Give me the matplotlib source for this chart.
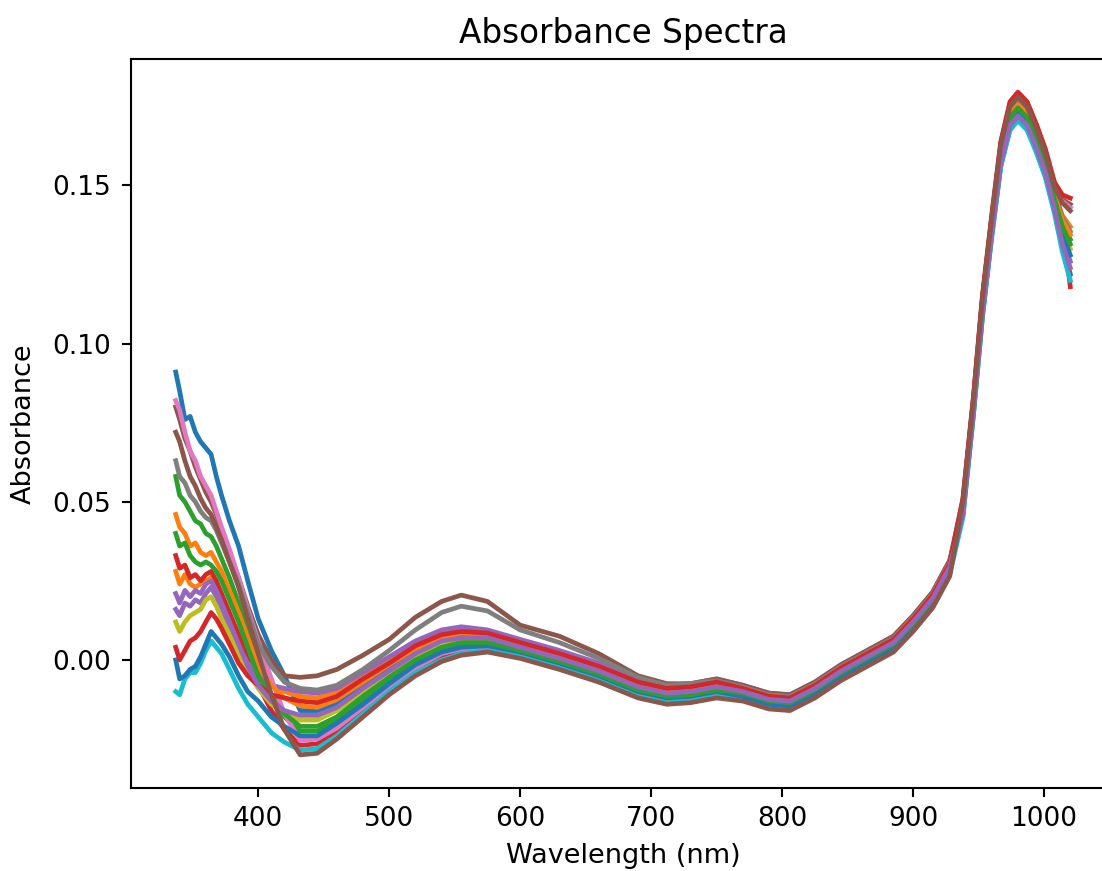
import matplotlib
matplotlib.use("Agg")
import matplotlib.pyplot as plt
import numpy as np

wavelength = [337, 340, 344, 348, 352, 356, 360, 364, 368, 372, 378, 385, 392, 400, 410, 420,
              432, 445, 460, 480, 500, 520, 540, 555, 575, 600, 630, 660, 690, 712, 730, 750,
              770, 790, 806, 825, 845, 865, 885, 900, 915, 928,
              938, 946, 953, 960, 967, 974, 980, 987, 994, 1001, 1008, 1014, 1020]

# absorbance in milli-units, one list per spectrum (plot order = colour cycle order)
spec_00 = [91, 85, 76, 77, 72, 69, 67, 65, 58, 52, 44, 36, 25, 13, 3, -5,
           -16, -16, -14, -8, -2.5, 2.5, 6.5, 8, 7.5, 4.5, 1, -3, -8, -10, -9.5, -8,
           -9.5, -12, -12.5, -8.5, -3, 1.5, 6, 12.5, 20, 30,
           45.5, 77.5, 109, 134, 156.5, 168, 171, 168, 161, 153, 142, 130.5, 122]
spec_01 = [28, 24, 27, 24, 23, 24, 25, 26, 23, 20, 14, 8, 1, -4, -8, -10,
           -11.5, -12, -10, -5, 0, 5, 9, 10, 9, 6, 2.5, -1.5, -6.5, -8.5, -8, -6.5,
           -8.5, -11, -11.5, -7.5, -2, 2.5, 7, 13.5, 21, 31,
           49, 81, 113, 138, 161, 173.5, 176.5, 173.5, 166.5, 158.5, 147.5, 140.5, 137]
spec_02 = [58, 52, 50, 47, 44, 43, 40, 39, 36, 32, 26, 18, 9, -1, -11, -18,
           -22.5, -22.5, -19, -13, -6.5, -1, 3, 5, 5, 3, -0.5, -4.5, -9.5, -11.5, -11, -9.5,
           -11, -13.5, -14, -10, -4.5, 0, 4.5, 11, 18.5, 28.5,
           48, 80, 112, 137, 160, 172, 175, 172, 165, 157, 146, 138, 133]
spec_03 = [33, 29, 30, 26, 27, 25, 27, 28, 25, 21, 15, 8, 0, -8, -16, -22,
           -27, -26.5, -22.5, -16, -9, -3.5, 1, 3, 3.5, 1.5, -2, -6, -11, -13, -12.5, -11,
           -12, -14.5, -15, -11, -5.5, -1, 3.5, 10, 17.5, 27.5,
           49.5, 81.5, 114, 139, 162, 174.5, 177.5, 174.5, 167.5, 159.5, 149, 139, 118]
spec_04 = [16, 14, 18, 17, 19, 18, 21, 23, 20, 16, 10, 4, -1, -5, -8, -9,
           -10, -10.5, -9, -4, 1, 6, 9.5, 10.5, 9.5, 6.5, 3, -1, -6, -8, -7.5, -6,
           -8, -10.5, -11, -7, -1.5, 3, 7.5, 14, 21.5, 31.5,
           46.5, 78.5, 110, 135, 158, 169.5, 172.5, 169.5, 162.5, 154.5, 143, 133, 126]
spec_05 = [80, 76, 70, 66, 61, 57, 53, 50, 46, 41, 34, 26, 17, 8, 0, -5,
           -5.5, -5, -3, 1.5, 6.5, 13.5, 18.5, 20.5, 18.5, 11, 7.5, 2, -5, -7.5, -7.5, -6,
           -8, -10.5, -11, -7, -1.5, 3, 7.5, 14, 21.5, 31.5,
           50.5, 82.5, 115, 140, 163.5, 176, 179, 176, 169, 161, 150, 145.5, 144]
spec_06 = [82, 79, 72, 66, 63, 58, 55, 52, 47, 42, 35, 26, 16, 6, -6, -17,
           -25.5, -25, -21.5, -15, -8.5, -2.5, 2, 3.5, 4, 2, -1.5, -5.5, -10.5, -12.5, -12, -10.5,
           -12, -14.5, -15, -11, -5.5, -1, 3.5, 10, 17.5, 27.5,
           49, 81, 113.5, 138.5, 161.5, 174, 177, 174, 167, 159, 148.5, 145, 143]
spec_07 = [63, 58, 56, 52, 50, 47, 45, 44, 41, 37, 31, 24, 15, 5, -2, -7,
           -9, -9.5, -8, -3, 3, 9.5, 15, 17, 15.5, 9.5, 5.5, 0.5, -5.5, -8, -7.5, -6.5,
           -8.5, -11, -11.5, -7.5, -2, 2.5, 7, 13.5, 21, 31,
           48.5, 80.5, 112.5, 137.5, 161, 173, 176, 173, 166, 158, 147, 140, 135.5]
spec_08 = [12, 9, 12, 14, 15, 16, 19, 20, 17, 13, 8, 2, -4, -9, -14, -17,
           -19, -19, -16, -10.5, -4.5, 1, 5, 6.5, 6.5, 4, 0.5, -3.5, -8.5, -10.5, -10, -8.5,
           -10.5, -13, -13.5, -9.5, -4, 0.5, 5, 11.5, 19, 29,
           47, 79, 111, 136, 159, 171, 174, 171, 164, 156, 144.5, 136, 130]
spec_09 = [-10, -11, -6, -4, -4, -1, 3, 6, 4, 2, -3, -9, -14, -18, -23, -26,
           -28.5, -28, -24, -17, -10, -4, 0, 2, 3, 1, -2.5, -6.5, -11.5, -13.5, -13, -11.5,
           -12.5, -15, -15.5, -11.5, -6, -1.5, 3, 9.5, 17, 27,
           45, 77, 108.5, 133.5, 156, 167.5, 170.5, 167.5, 160.5, 152.5, 141, 129, 120]
spec_10 = [0, -6, -5, -3, -2, 1, 5, 9, 7, 5, 1, -5, -10, -13, -18, -21,
           -24, -24, -20, -14, -7.5, -1.5, 2.5, 4, 4.5, 2.5, -1, -5, -10, -12, -11.5, -10,
           -11.5, -14, -14.5, -10.5, -5, -0.5, 4, 10.5, 18, 28,
           47, 79, 110.5, 135.5, 158.5, 170, 173, 170, 163, 155, 144, 134.5, 128]
spec_11 = [46, 42, 40, 36, 37, 34, 33, 34, 31, 28, 22, 15, 7, -2, -8, -12,
           -14.5, -15, -12.5, -7, -1.5, 3.5, 7, 8.5, 8, 5, 1.5, -2.5, -7.5, -9.5, -9, -7.5,
           -9, -11.5, -12, -8, -2.5, 2, 6.5, 13, 20.5, 30.5,
           48.5, 80.5, 112.5, 137.5, 160.5, 172.5, 175.5, 172.5, 165.5, 157.5, 146.5, 139, 134.5]
spec_12 = [40, 36, 37, 33, 31, 30, 31, 30, 28, 25, 19, 12, 4, -5, -12, -17,
           -21, -21, -18, -11.5, -5.5, 0, 4, 5.5, 5.5, 3, -0.5, -4.5, -9.5, -11.5, -11, -9.5,
           -10.5, -13, -13.5, -9.5, -4, 0.5, 5, 11.5, 19, 29,
           47.5, 79.5, 111.5, 136.5, 159.5, 171.5, 174.5, 171.5, 164.5, 156.5, 145.5, 137, 131.5]
spec_13 = [4, 0, 3, 6, 7, 9, 12, 15, 13, 10, 5, -1, -5, -8, -11, -12,
           -13, -13.5, -11.5, -6, -1, 4.5, 8, 9, 8.5, 5.5, 2, -2, -7, -9, -8.5, -7,
           -9, -11.5, -12, -8, -2.5, 2, 6.5, 13, 20.5, 30.5,
           51, 83, 115.5, 140.5, 164, 176.5, 179.5, 176.5, 169.5, 161.5, 151, 147, 146]
spec_14 = [21, 18, 22, 20, 22, 21, 24, 25, 22, 18, 12, 5, -2, -8, -13, -16,
           -17.5, -17.5, -15, -9, -3.5, 2, 6, 7, 7, 4, 0.5, -3.5, -8.5, -10.5, -10, -8.5,
           -10, -12.5, -13, -9, -3.5, 1, 5.5, 12, 19.5, 29.5,
           46, 78, 109.5, 134.5, 157, 169, 172, 169, 162, 154, 142.5, 131.5, 124]
spec_15 = [72, 69, 63, 58, 55, 51, 48, 46, 42, 38, 31, 23, 13, 2, -11, -22,
           -30, -29.5, -25, -18, -11, -5, -0.5, 1.5, 2.5, 0.5, -3, -7, -12, -14, -13.5, -12,
           -13, -15.5, -16, -12, -6.5, -2, 2.5, 9, 16.5, 26.5,
           50, 82, 114.5, 139.5, 163, 175, 178, 175, 168, 160, 149.5, 144.5, 142]

spectra = [spec_00, spec_01, spec_02, spec_03, spec_04, spec_05, spec_06, spec_07,
           spec_08, spec_09, spec_10, spec_11, spec_12, spec_13, spec_14, spec_15]

s = 1.9  # drawn at roughly 1.9x the matplotlib defaults
plt.rcParams['font.size'] = 19.5
plt.rcParams['xtick.labelsize'] = 19
plt.rcParams['ytick.labelsize'] = 19
plt.rcParams['axes.titlesize'] = 23.5
plt.rcParams['lines.linewidth'] = 3.4
plt.rcParams['lines.solid_joinstyle'] = 'round'
plt.rcParams['axes.linewidth'] = 0.8 * s
for ax_name in ('xtick', 'ytick'):
	plt.rcParams[ax_name + '.major.size'] = 3.5 * s
	plt.rcParams[ax_name + '.major.width'] = 0.8 * s
plt.rcParams['xtick.major.pad'] = 3.5 * s
plt.rcParams['ytick.major.pad'] = 8
plt.rcParams['axes.titlepad'] = 6 * s
plt.rcParams['axes.labelpad'] = 4 * s

fig = plt.figure(figsize=(11.02, 8.71), dpi=100)
# right spine falls just outside the picture, as in the reference crop
ax = fig.add_axes([131 / 1102, 83 / 871, 984 / 1102, 729 / 871])
ax.spines['right'].set_visible(False)

wl = np.array(wavelength)
for spec in spectra:
	ax.plot(wl, np.array(spec) / 1000.0)

ax.set_xticks([400, 500, 600, 700, 800, 900, 1000])
ax.set_yticks([0.0, 0.05, 0.10, 0.15])
ax.set_title('Absorbance Spectra')
ax.set_xlabel('Wavelength (nm)')
ax.set_ylabel('Absorbance', labelpad=11)

fig.savefig('out.png', dpi=100)
